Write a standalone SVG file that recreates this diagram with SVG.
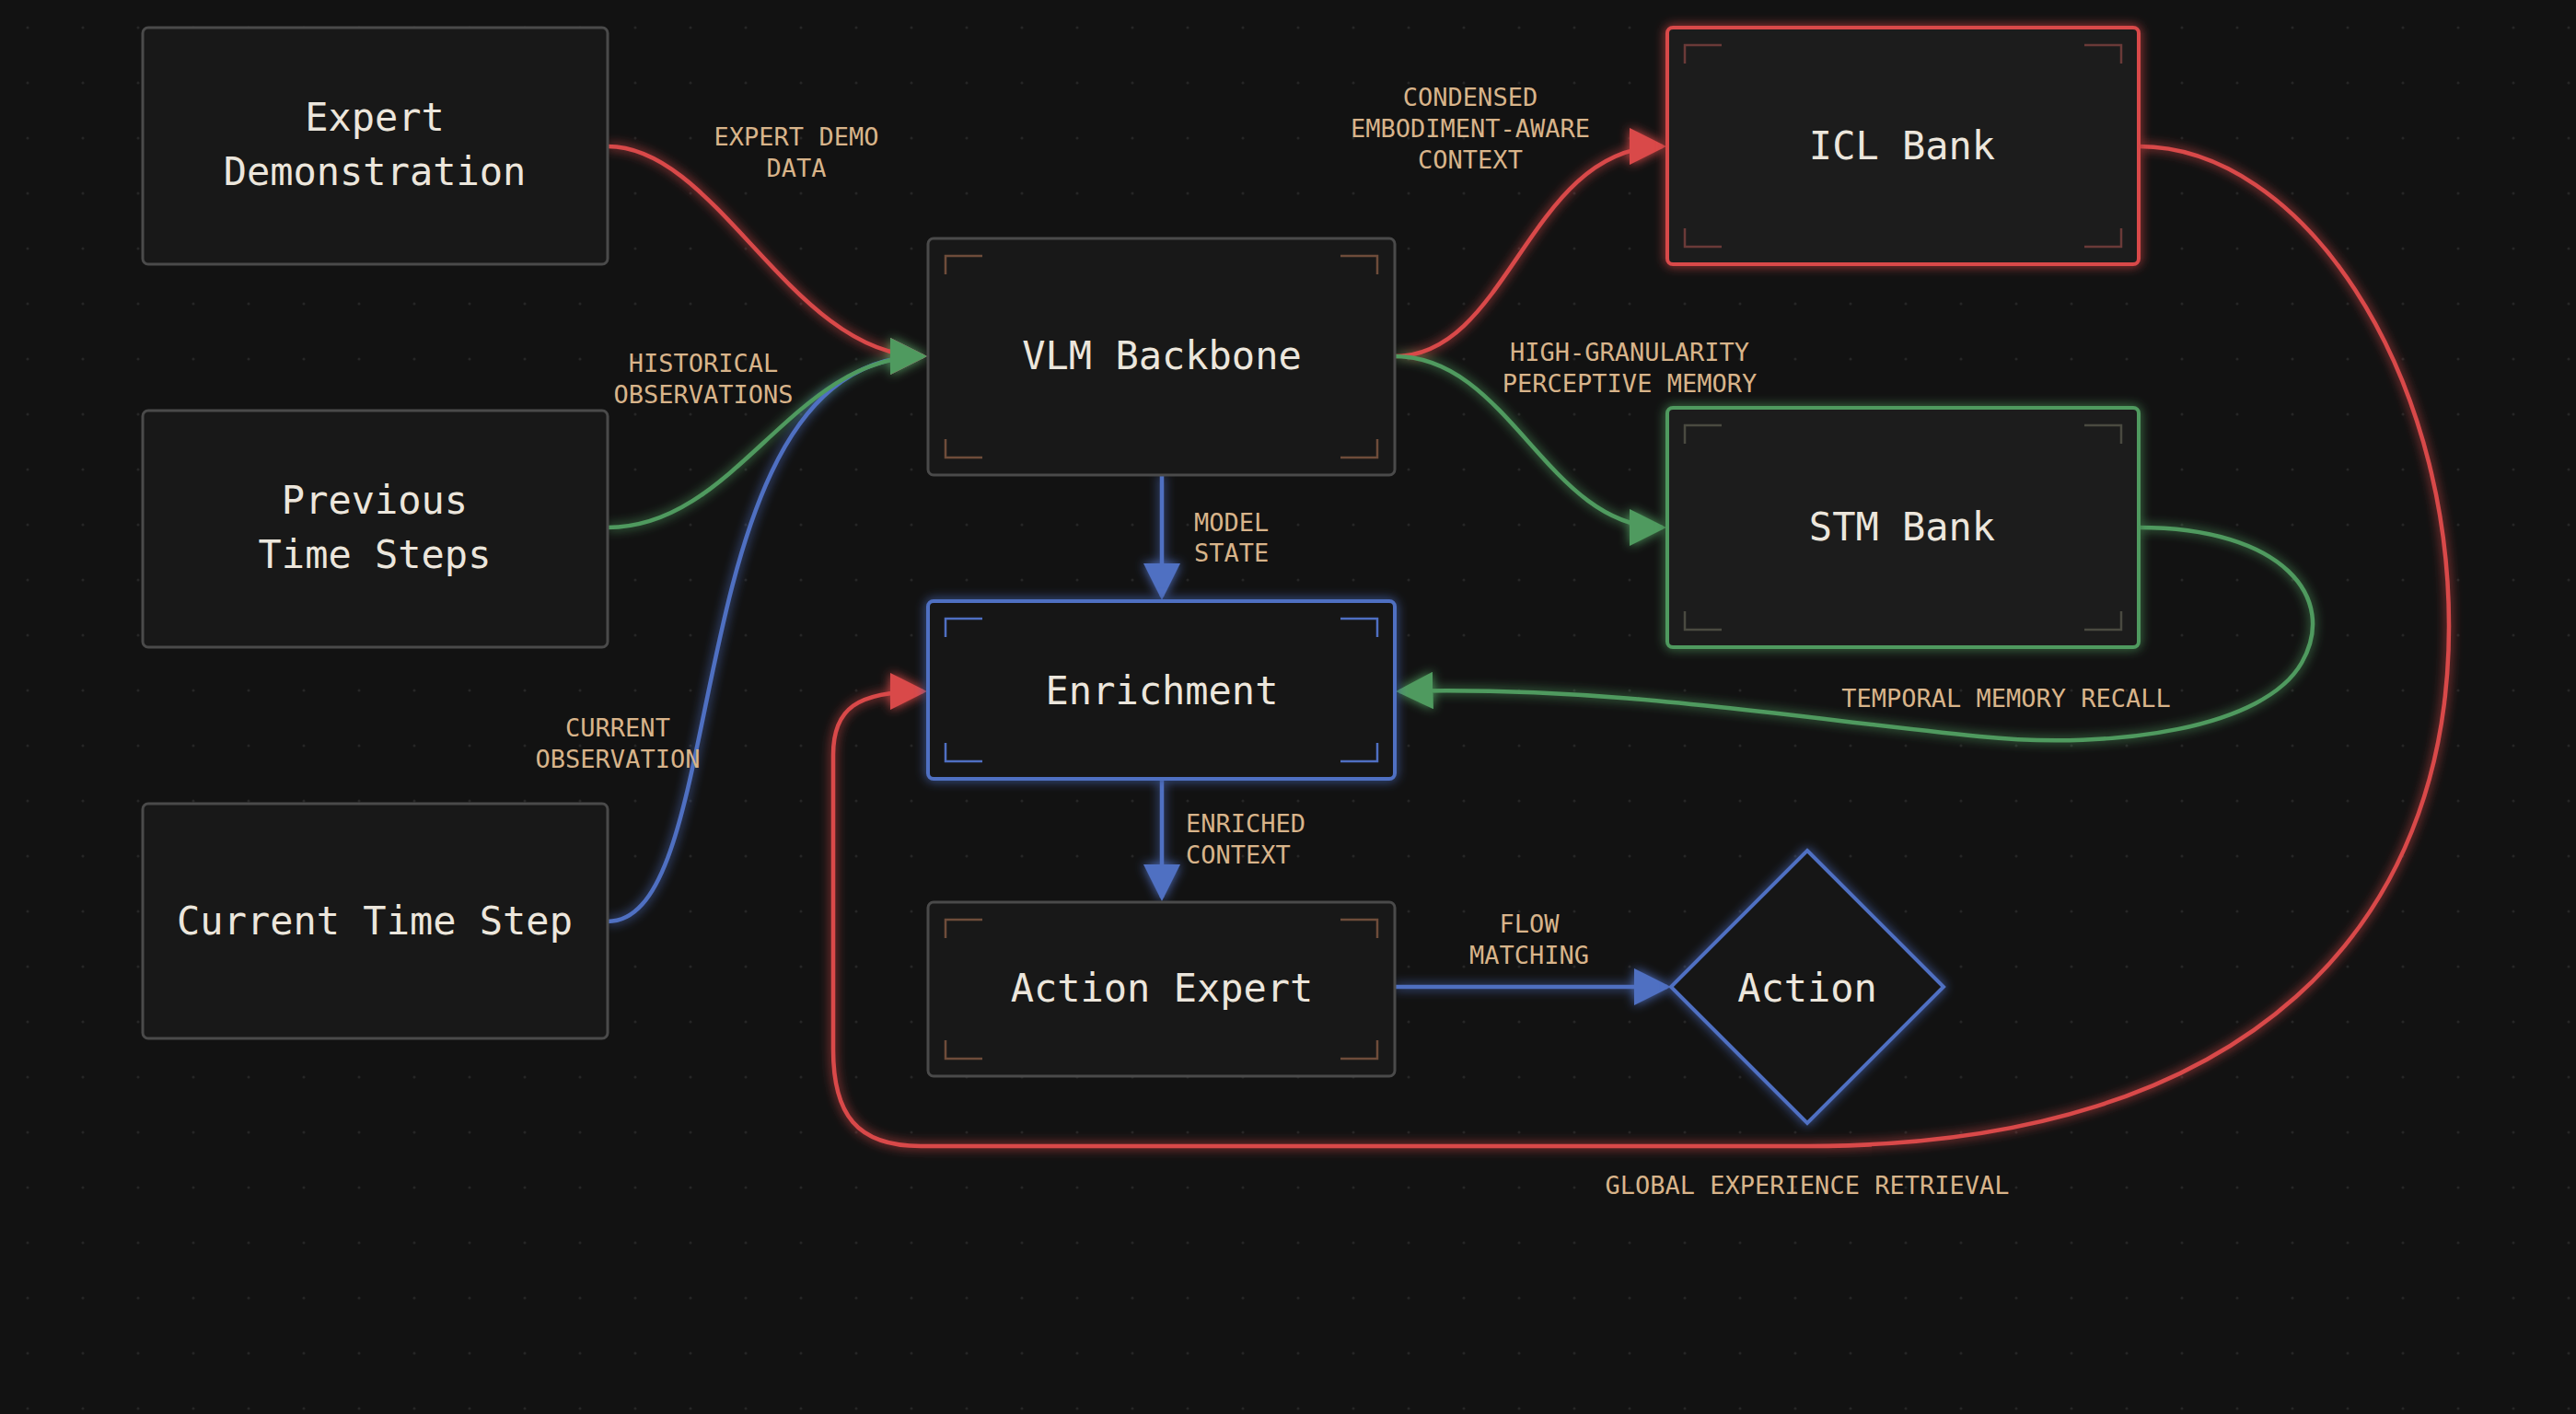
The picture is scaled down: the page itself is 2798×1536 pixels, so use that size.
<svg xmlns="http://www.w3.org/2000/svg" width="2798" height="1536" viewBox="0 0 2798 1536">
<style>
.node{fill:#181818;stroke:#4a4a4a;stroke-width:3}
.t{font-family:"DejaVu Sans Mono","Liberation Mono",monospace;font-size:42px;fill:#ece6dc;text-anchor:middle}
.l{font-family:"DejaVu Sans Mono","Liberation Mono",monospace;font-size:27px;fill:#d8b48a;text-anchor:middle}
.br{fill:none;stroke:#6e4c3a;stroke-width:2.5}
.c{fill:none;stroke-width:4.5}
.red{stroke:#d9484a}.grn{stroke:#4f9a5e}.blu{stroke:#4f6fc2}
</style>
<defs>
<pattern id="dots" width="60" height="60" patternUnits="userSpaceOnUse"><circle cx="30" cy="30" r="1.5" fill="#262626"/></pattern>
<filter id="glow" x="-20%" y="-20%" width="140%" height="140%"><feGaussianBlur stdDeviation="6" result="b"/><feMerge><feMergeNode in="b"/><feMergeNode in="SourceGraphic"/></feMerge></filter>
<marker id="ar" viewBox="0 0 10 10" refX="9" refY="5" markerWidth="9" markerHeight="9" orient="auto" markerUnits="strokeWidth"><path d="M0,0L10,5L0,10z" fill="#d9484a"/></marker>
<marker id="ag" viewBox="0 0 10 10" refX="9" refY="5" markerWidth="9" markerHeight="9" orient="auto" markerUnits="strokeWidth"><path d="M0,0L10,5L0,10z" fill="#4f9a5e"/></marker>
<marker id="ab" viewBox="0 0 10 10" refX="9" refY="5" markerWidth="9" markerHeight="9" orient="auto" markerUnits="strokeWidth"><path d="M0,0L10,5L0,10z" fill="#4f6fc2"/></marker>
</defs>
<rect width="2798" height="1536" fill="#121212"/>
<rect width="2798" height="1536" fill="url(#dots)"/>
<g id="connectors" filter="url(#glow)">
<path class="c blu" d="M660,1001 C800,1001 730,387 1003,387" marker-end="url(#ab)"/>
<path class="c red" d="M660,159 C780,159 860,387 1003,387" marker-end="url(#ar)"/>
<path class="c grn" d="M660,573 C800,573 860,387 1003,387" marker-end="url(#ag)"/>
<path class="c red" d="M1515,387 C1640,387 1660,159 1806,159" marker-end="url(#ar)"/>
<path class="c grn" d="M1515,387 C1640,387 1680,573 1806,573" marker-end="url(#ag)"/>
<path class="c blu" d="M1262,516 L1262,648" marker-end="url(#ab)"/>
<path class="c blu" d="M1262,846 L1262,975" marker-end="url(#ab)"/>
<path class="c blu" d="M1515,1072 L1811,1072" marker-end="url(#ab)"/>
<path class="c grn" d="M2323,573 C2480,573 2540,650 2500,720 C2460,790 2300,815 2150,800 C1950,780 1750,745 1520,751" marker-end="url(#ag)"/>
<path class="c red" d="M2323,159 C2500,159 2660,400 2660,680 C2660,1000 2450,1245 1963,1245 L1000,1245 C930,1245 905,1210 905,1140 L905,820 C905,770 930,751 1003,751" marker-end="url(#ar)"/>
</g>
<g id="labels">
<text class="l" x="865" y="158">EXPERT DEMO</text><text class="l" x="865" y="192">DATA</text>
<text class="l" x="764" y="404">HISTORICAL</text><text class="l" x="764" y="438">OBSERVATIONS</text>
<text class="l" x="671" y="800">CURRENT</text><text class="l" x="671" y="834">OBSERVATION</text>
<text class="l" x="1597" y="115">CONDENSED</text><text class="l" x="1597" y="149">EMBODIMENT-AWARE</text><text class="l" x="1597" y="183">CONTEXT</text>
<text class="l" x="1770" y="392">HIGH-GRANULARITY</text><text class="l" x="1770" y="426">PERCEPTIVE MEMORY</text>
<text class="l" x="1297" y="577" style="text-anchor:start">MODEL</text><text class="l" x="1297" y="610" style="text-anchor:start">STATE</text>
<text class="l" x="1288" y="904" style="text-anchor:start">ENRICHED</text><text class="l" x="1288" y="938" style="text-anchor:start">CONTEXT</text>
<text class="l" x="1661" y="1013">FLOW</text><text class="l" x="1661" y="1047">MATCHING</text>
<text class="l" x="2179" y="768">TEMPORAL MEMORY RECALL</text>
<text class="l" x="1963" y="1297">GLOBAL EXPERIENCE RETRIEVAL</text>
</g>
<g id="expert-demo"><rect class="node" x="155" y="30" width="505" height="257" rx="6"/><text class="t" x="407" y="142">Expert</text><text class="t" x="407" y="201">Demonstration</text></g>
<g id="previous"><rect class="node" x="155" y="446" width="505" height="257" rx="6"/><text class="t" x="407" y="558">Previous</text><text class="t" x="407" y="617">Time Steps</text></g>
<g id="current"><rect class="node" x="155" y="873" width="505" height="255" rx="6"/><text class="t" x="407" y="1015">Current Time Step</text></g>
<g id="vlm"><rect class="node" x="1008" y="259" width="507" height="257" rx="6"/>
<path class="br" d="M1027,298V278H1067M1496,298V278H1456M1027,477V497H1067M1496,477V497H1456"/>
<text class="t" x="1262" y="401">VLM Backbone</text></g>
<g id="enrichment"><rect class="node" x="1008" y="653" width="507" height="193" rx="6" style="stroke:#4f6fc2;stroke-width:4" filter="url(#glow)"/>
<path class="br" d="M1027,692V672H1067M1496,692V672H1456M1027,807V827H1067M1496,807V827H1456" style="stroke:#4f6fc2"/>
<text class="t" x="1262" y="765">Enrichment</text></g>
<g id="action-expert"><rect class="node" x="1008" y="980" width="507" height="189" rx="6"/>
<path class="br" d="M1027,1019V999H1067M1496,1019V999H1456M1027,1130V1150H1067M1496,1130V1150H1456"/>
<text class="t" x="1262" y="1088">Action Expert</text></g>
<g id="icl"><rect class="node" x="1811" y="30" width="512" height="257" rx="6" style="stroke:#d9484a;stroke-width:4;fill:#1e1e1e" filter="url(#glow)"/>
<path class="br" d="M1830,69V49H1870M2304,69V49H2264M1830,248V268H1870M2304,248V268H2264" style="stroke:#6a3a38"/>
<text class="t" x="2066" y="173">ICL Bank</text></g>
<g id="stm"><rect class="node" x="1811" y="443" width="512" height="260" rx="6" style="stroke:#4f9a5e;stroke-width:4;fill:#1e1e1e" filter="url(#glow)"/>
<path class="br" d="M1830,482V462H1870M2304,482V462H2264M1830,664V684H1870M2304,664V684H2264" style="stroke:#4a4a40"/>
<text class="t" x="2066" y="587">STM Bank</text></g>
<g id="action"><path d="M1963,924L2111,1072L1963,1220L1815,1072Z" fill="#141414" stroke="#4f6fc2" stroke-width="4" filter="url(#glow)"/>
<text class="t" x="1963" y="1088">Action</text></g>
</svg>
